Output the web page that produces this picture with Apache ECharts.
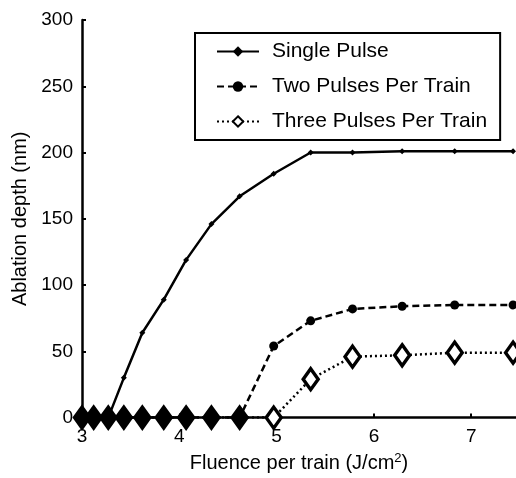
<!DOCTYPE html>
<html>
<head>
<meta charset="utf-8">
<script src="https://cdn.jsdelivr.net/npm/echarts@6/dist/echarts.min.js"></script>
<style>
  html, body { margin: 0; padding: 0; background: #fff; }
  #main { width: 516px; height: 478px; }
</style>
</head>
<body>
<div id="main"></div>
<script>
var dom = document.getElementById('main');
var myChart = echarts.init(dom);

// fluence values (J/cm^2)
var fluence = [3.0, 3.12, 3.27, 3.43, 3.62, 3.84, 4.07, 4.33, 4.62, 4.97, 5.35, 5.78, 6.29, 6.83, 7.43];
var singlePulse = [0, 0, 0, 30, 64, 89, 119, 146, 167, 184, 200, 200, 201, 201, 201];
var twoPulses   = [0, 0, 0, 0, 0, 0, 0, 0, 0, 54, 73, 82, 84, 85, 85];
var threePulses = [0, 0, 0, 0, 0, 0, 0, 0, 0, 0, 29, 46, 47, 49, 49];

var seriesNames = ['Single Pulse', 'Two Pulses Per Train', 'Three Pulses Per Train'];
var xTicks = [3, 4, 5, 6, 7];

var font = 'Liberation Sans, Arial, Helvetica, sans-serif';

function pairs(ys) {
    return ys.map(function (y, i) { return [fluence[i], y]; });
}

// solid diamonds on the baseline, hollow ones after
var threeData = threePulses.map(function (y, i) {
    var item = { value: [fluence[i], y] };
    if (fluence[i] < 4.9) {
        item.itemStyle = { color: '#000' };
    }
    return item;
});

var option = {
    backgroundColor: '#fff',
    animation: false,
    grid: {
        left: 82,
        right: 0,
        top: 20,
        bottom: 58
    },
    legend: {
        orient: 'vertical',
        left: 195,
        top: 33,
        padding: [8, 13, 8, 21],
        itemWidth: 42,
        itemHeight: 13,
        itemGap: 14,
        borderColor: '#000',
        borderWidth: 2,
        backgroundColor: '#fff',
        textStyle: {
            color: '#000',
            fontFamily: font,
            fontSize: 21,
            padding: [0, 0, 0, 8]
        },
        data: seriesNames
    },
    xAxis: {
        type: 'value',
        min: 3,
        max: 7.46,
        interval: 1,
        name: '{a|Fluence per train (J/cm}{s|2}{a|)}',
        nameLocation: 'middle',
        nameGap: 31,
        nameTextStyle: {
            rich: {
                a: { fontFamily: font, fontSize: 20, color: '#000' },
                s: { fontFamily: font, fontSize: 13, color: '#000', verticalAlign: 'top', padding: [0, 0, 10, 0] }
            }
        },
        splitLine: { show: false },
        axisLine: { lineStyle: { color: '#000', width: 2.5 } },
        axisTick: { inside: true, length: 4, lineStyle: { color: '#000', width: 2 } },
        axisLabel: {
            showMaxLabel: false,
            margin: 10,
            color: '#000',
            fontFamily: font,
            fontSize: 19,
            formatter: function (v) {
                return xTicks.indexOf(v) >= 0 ? String(v) : '';
            }
        }
    },
    yAxis: {
        type: 'value',
        min: 0,
        max: 300,
        interval: 50,
        name: 'Ablation depth (nm)',
        nameLocation: 'middle',
        nameGap: 48,
        nameTextStyle: { color: '#000', fontFamily: font, fontSize: 20 },
        splitLine: { show: false },
        axisLine: { show: true, lineStyle: { color: '#000', width: 2.5 } },
        axisTick: { show: true, inside: true, length: 4, lineStyle: { color: '#000', width: 2 } },
        axisLabel: { margin: 9, color: '#000', fontFamily: font, fontSize: 19 }
    },
    series: [
        {
            name: seriesNames[0],
            type: 'line',
            symbol: 'diamond',
            symbolSize: 6,
            itemStyle: { color: '#000' },
            lineStyle: { color: '#000', width: 2.5, type: 'solid' },
            data: pairs(singlePulse)
        },
        {
            name: seriesNames[1],
            type: 'line',
            symbol: 'circle',
            symbolSize: 9,
            itemStyle: { color: '#000' },
            lineStyle: { color: '#000', width: 2.5, type: [7, 4] },
            data: pairs(twoPulses)
        },
        {
            name: seriesNames[2],
            type: 'line',
            symbol: 'diamond',
            symbolSize: [15, 21],
            itemStyle: { color: '#fff', borderColor: '#000', borderWidth: 3.5 },
            lineStyle: { color: '#000', width: 2.5, type: [2, 3] },
            data: threeData
        }
    ]
};

myChart.setOption(option);
</script>
</body>
</html>
